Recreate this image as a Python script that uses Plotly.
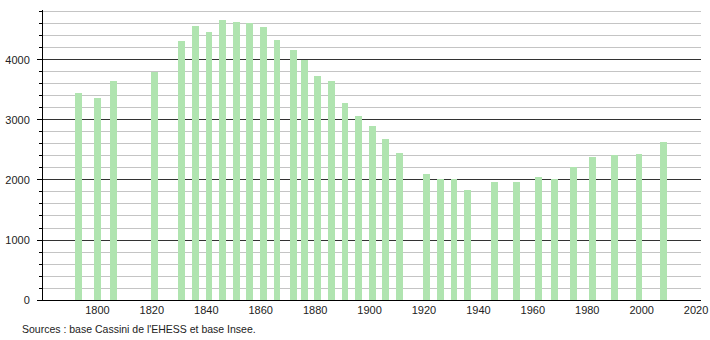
import plotly.graph_objects as go

years = [1793, 1800, 1806, 1821, 1831, 1836, 1841, 1846, 1851, 1856, 1861, 1866,
         1872, 1876, 1881, 1886, 1891, 1896, 1901, 1906, 1911, 1921, 1926, 1931,
         1936, 1946, 1954, 1962, 1968, 1975, 1982, 1990, 1999, 2008]
population = [3445, 3361, 3650, 3805, 4317, 4567, 4467, 4667, 4633, 4611, 4544, 4333,
              4167, 4000, 3733, 3650, 3278, 3067, 2900, 2683, 2450, 2100, 2017, 2017,
              1833, 1967, 1967, 2050, 2017, 2222, 2383, 2411, 2433, 2633]
x_ticks = [1800, 1820, 1840, 1860, 1880, 1900, 1920, 1940, 1960, 1980, 2000, 2020]
y_ticks = [0, 1000, 2000, 3000, 4000]
source_text = "Sources : base Cassini de l'EHESS et base Insee."

fig = go.Figure()
fig.add_trace(go.Bar(
    x=years, y=population, width=2.5,
    marker=dict(color="#b0e4b0", line=dict(width=0)),
    hoverinfo="x+y",
))

fig.update_layout(
    width=710, height=340,
    margin=dict(l=43, r=9, t=10, b=40),
    paper_bgcolor="white", plot_bgcolor="white",
    showlegend=False,
    font=dict(family="Liberation Sans, Arial, sans-serif", size=11, color="#222"),
    xaxis=dict(
        range=[1780, 2021.8],
        tickvals=x_ticks, ticktext=[str(v) for v in x_ticks],
        showgrid=False, zeroline=False,
        showline=True, linecolor="#000", linewidth=1,
        ticks="", ticklen=0, automargin=False,
        ticklabelstandoff=0,
    ),
    yaxis=dict(
        range=[0, 4833],
        tickvals=y_ticks, ticktext=[str(v) for v in y_ticks],
        showgrid=True, gridcolor="#333", gridwidth=1,
        zeroline=False, automargin=False,
        showline=True, linecolor="#000", linewidth=1,
        ticks="outside", ticklen=5, tickcolor="#000",
        ticklabelstandoff=5,
        minor=dict(dtick=200, showgrid=True, gridcolor="#c4c4c4", gridwidth=1,
                   ticks="outside", ticklen=3, tickcolor="#000"),
    ),
    bargap=0,
)

fig.add_annotation(
    text=source_text, xref="paper", yref="paper",
    x=-0.035, y=-0.072, xanchor="left", yanchor="top",
    showarrow=False, font=dict(size=10.5, color="#222"),
)

fig.write_html("out.html")
